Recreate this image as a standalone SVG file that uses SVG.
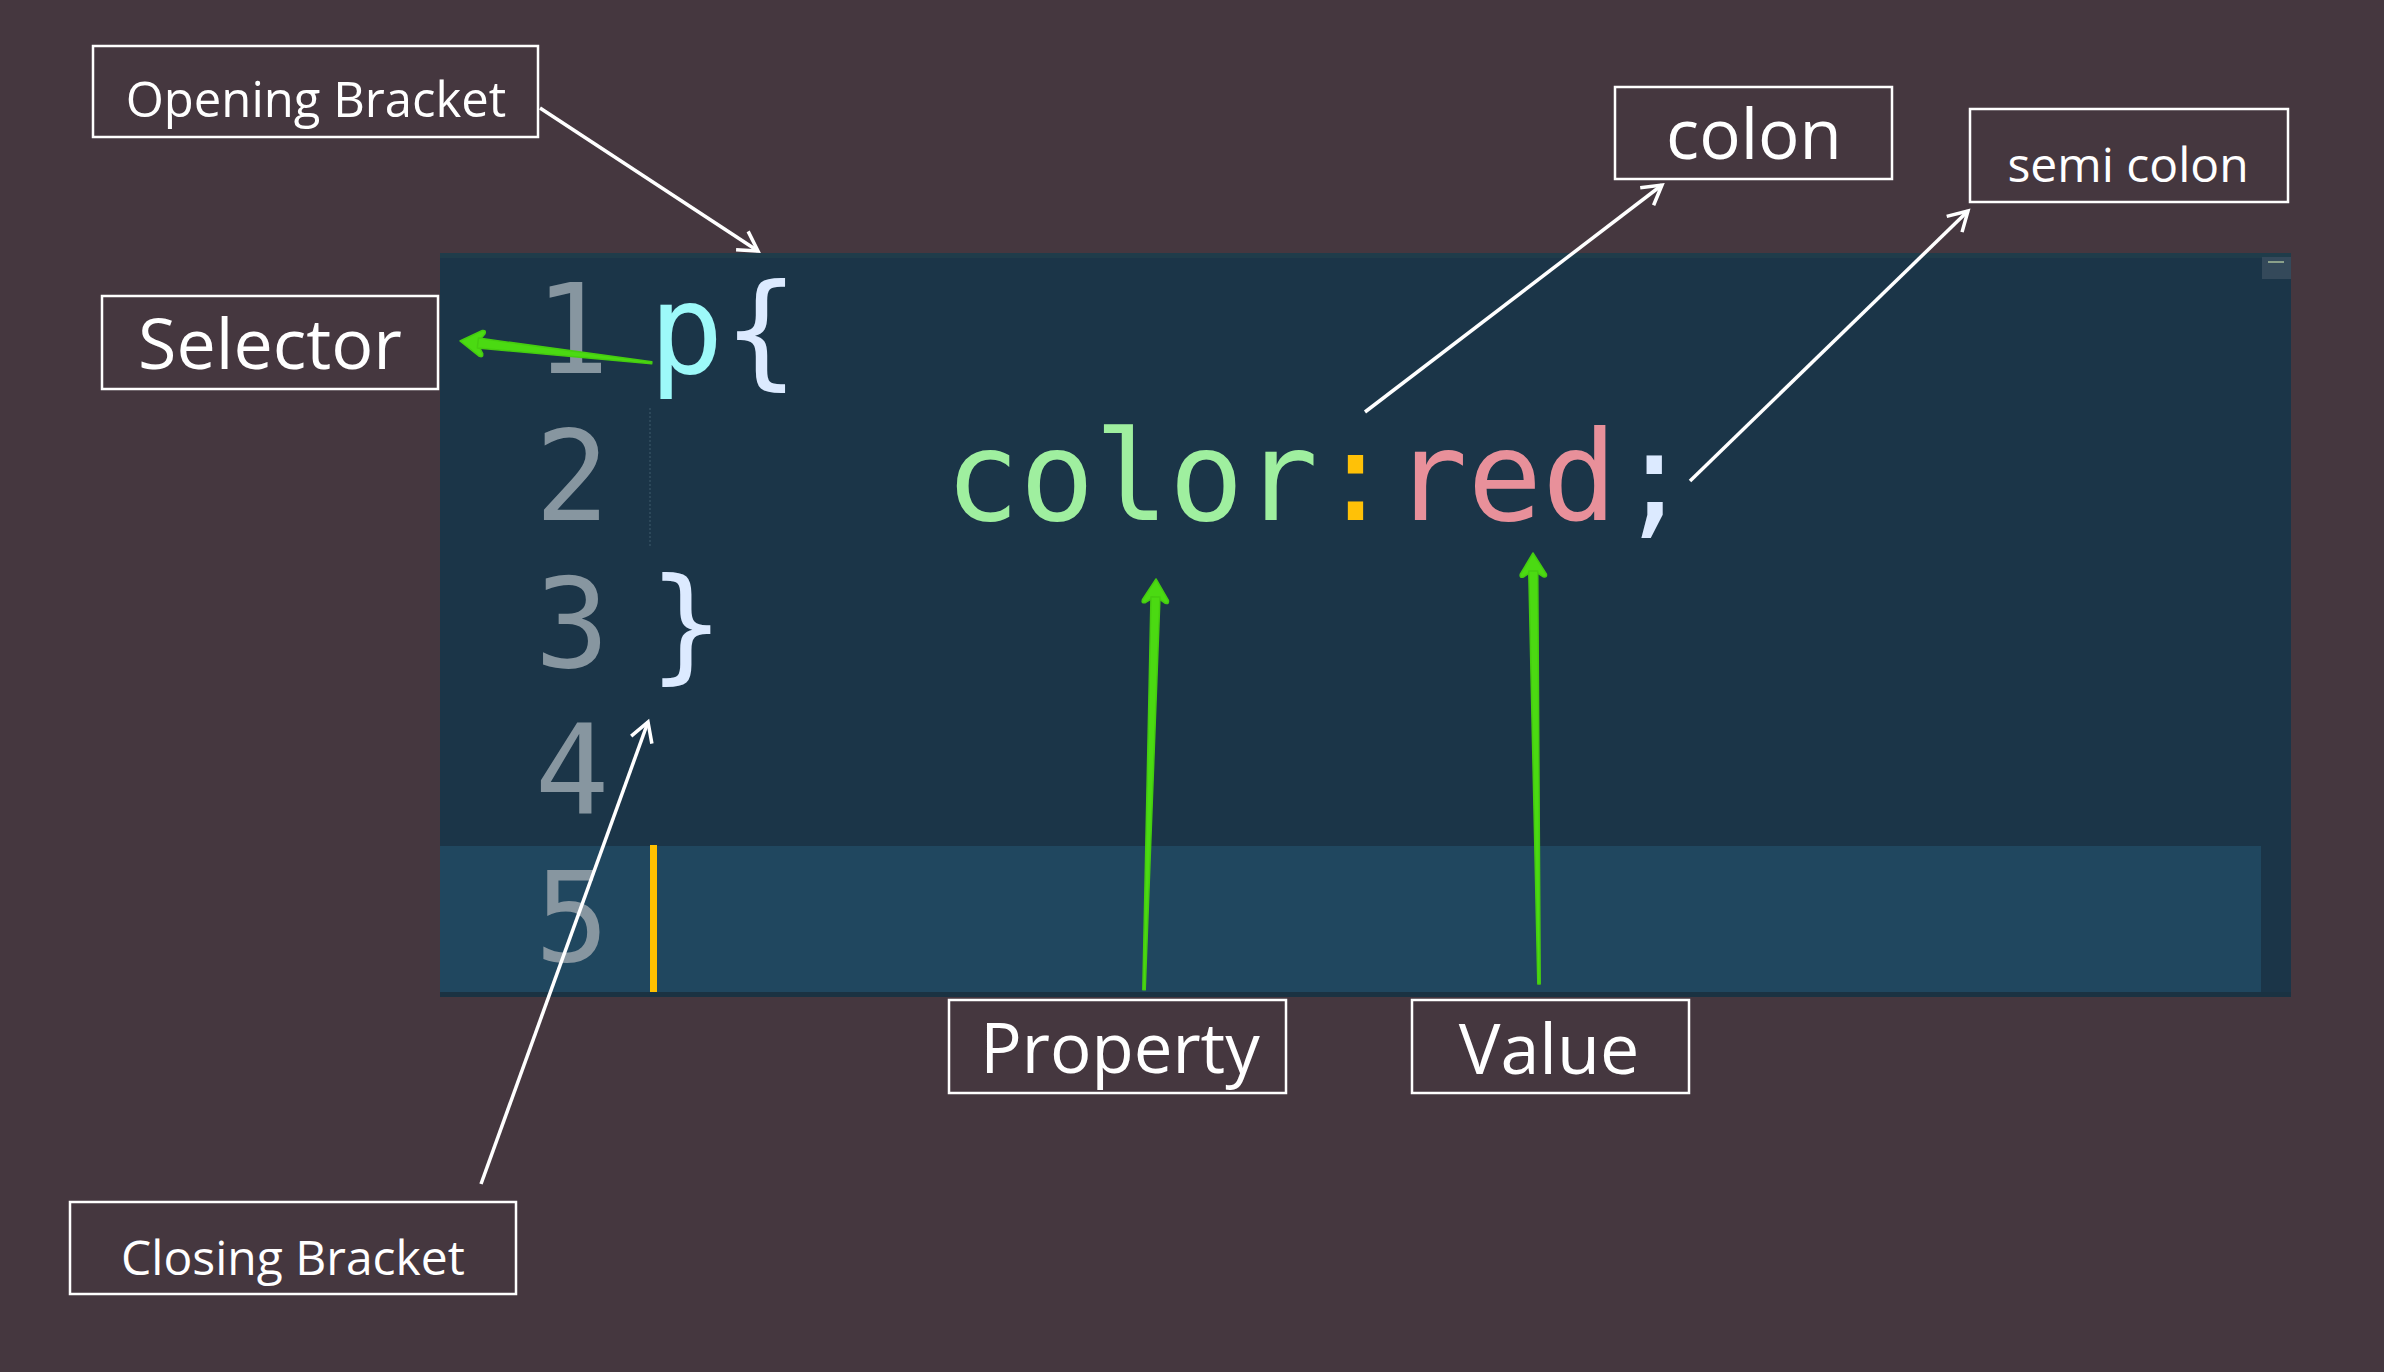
<svg xmlns="http://www.w3.org/2000/svg" width="2384" height="1372" viewBox="0 0 2384 1372">
<style>
.lbl{fill:none;stroke:#ffffff;stroke-width:2.5}
.lt{font-family:"Open Sans","Liberation Sans",sans-serif;fill:#ffffff;text-anchor:middle}
.code{font-family:"DejaVu Sans Mono","Liberation Mono",monospace;font-size:124px}
.ln{fill:#8796A0;text-anchor:middle}
.wa{stroke:#ffffff;stroke-width:3.5;fill:none;marker-end:url(#wh)}
.ga{fill:#4BDA12;stroke:#45CC10;stroke-width:1.5;stroke-linejoin:round}
</style>
<defs>
<marker id="wh" markerUnits="userSpaceOnUse" viewBox="-24 -16 28 32" refX="0" refY="0" markerWidth="28" markerHeight="32" orient="auto">
<path d="M-19,-11 L0,0 L-19,11" fill="none" stroke="#ffffff" stroke-width="3.5"/>
</marker>
<path id="ghead" d="M0,0 L13,21 Q14,25 10,24 L4,20 L-4,20 L-10,24 Q-14,25 -13,21 Z"/>
</defs>
<rect width="2384" height="1372" fill="#45373F"/>
<g id="editor">
<rect x="440" y="253" width="1851" height="744" fill="#1B3548"/>
<rect x="440" y="253" width="1851" height="5" fill="#1F3C4A"/>
<rect x="440" y="846" width="1821" height="146" fill="#20475F"/>
<rect x="440" y="992" width="1851" height="5" fill="#1A3242"/>
<rect x="2262" y="257" width="29" height="22" fill="#34495A"/>
<rect x="2268" y="261" width="16" height="2" fill="#8aa08a"/>
<line x1="650" y1="408" x2="650" y2="548" stroke="#3A5568" stroke-width="1.2" stroke-dasharray="2 2"/>
<rect x="650" y="845" width="7" height="147" fill="#FFC000"/>
<g class="code">
<text class="ln" x="572" y="373">1</text>
<text class="ln" x="572" y="520">2</text>
<text class="ln" x="572" y="667">3</text>
<text class="ln" x="572" y="814">4</text>
<text class="ln" x="572" y="961">5</text>
<text x="649" y="373"><tspan fill="#9DF9F9">p</tspan><tspan fill="#DCEAFF">{</tspan></text>
<text x="945" y="520"><tspan fill="#9FEF9F">color</tspan><tspan fill="#FFC107">:</tspan><tspan fill="#E8909A">red</tspan><tspan fill="#DCEAFF">;</tspan></text>
<text x="649" y="667" fill="#DCEAFF">}</text>
</g>
</g>
<g id="opening-bracket">
<rect class="lbl" x="93" y="46" width="445" height="91"/>
<text class="lt" x="316" y="117" font-size="49">Opening Bracket</text>
</g>
<g id="selector">
<rect class="lbl" x="102" y="296" width="336" height="93"/>
<text class="lt" x="270" y="369" font-size="70">Selector</text>
</g>
<g id="colon">
<rect class="lbl" x="1615" y="87" width="277" height="92"/>
<text class="lt" x="1754" y="159" font-size="69">colon</text>
</g>
<g id="semi-colon">
<rect class="lbl" x="1970" y="109" width="318" height="93"/>
<text class="lt" x="2128" y="182" font-size="48">semi colon</text>
</g>
<g id="property">
<rect class="lbl" x="949" y="1000" width="337" height="93"/>
<text class="lt" x="1120" y="1073" font-size="69">Property</text>
</g>
<g id="value">
<rect class="lbl" x="1412" y="1000" width="277" height="93"/>
<text class="lt" x="1549" y="1074" font-size="70">Value</text>
</g>
<g id="closing-bracket">
<rect class="lbl" x="70" y="1202" width="446" height="92"/>
<text class="lt" x="293" y="1275" font-size="48">Closing Bracket</text>
</g>
<g id="connectors">
<line class="wa" x1="540" y1="108" x2="758" y2="251"/>
<line class="wa" x1="1365" y1="412" x2="1662" y2="185"/>
<line class="wa" x1="1690" y1="481" x2="1968" y2="211"/>
<line class="wa" x1="481" y1="1184" x2="648" y2="722" stroke-width="3"/>
<g class="ga" transform="translate(460,341) rotate(-83.5)">
<use href="#ghead"/>
<path d="M-5,18 L5,18 L1,193 L-1,193 Z"/>
</g>
<g class="ga" transform="translate(1156,579) rotate(1.67)">
<use href="#ghead"/>
<path d="M-4.5,18 L4.5,18 L1.2,411 L-1.2,411 Z"/>
</g>
<g class="ga" transform="translate(1533,553) rotate(-0.8)">
<use href="#ghead"/>
<path d="M-4.5,18 L4.5,18 L1.2,431 L-1.2,431 Z"/>
</g>
</g>
</svg>
